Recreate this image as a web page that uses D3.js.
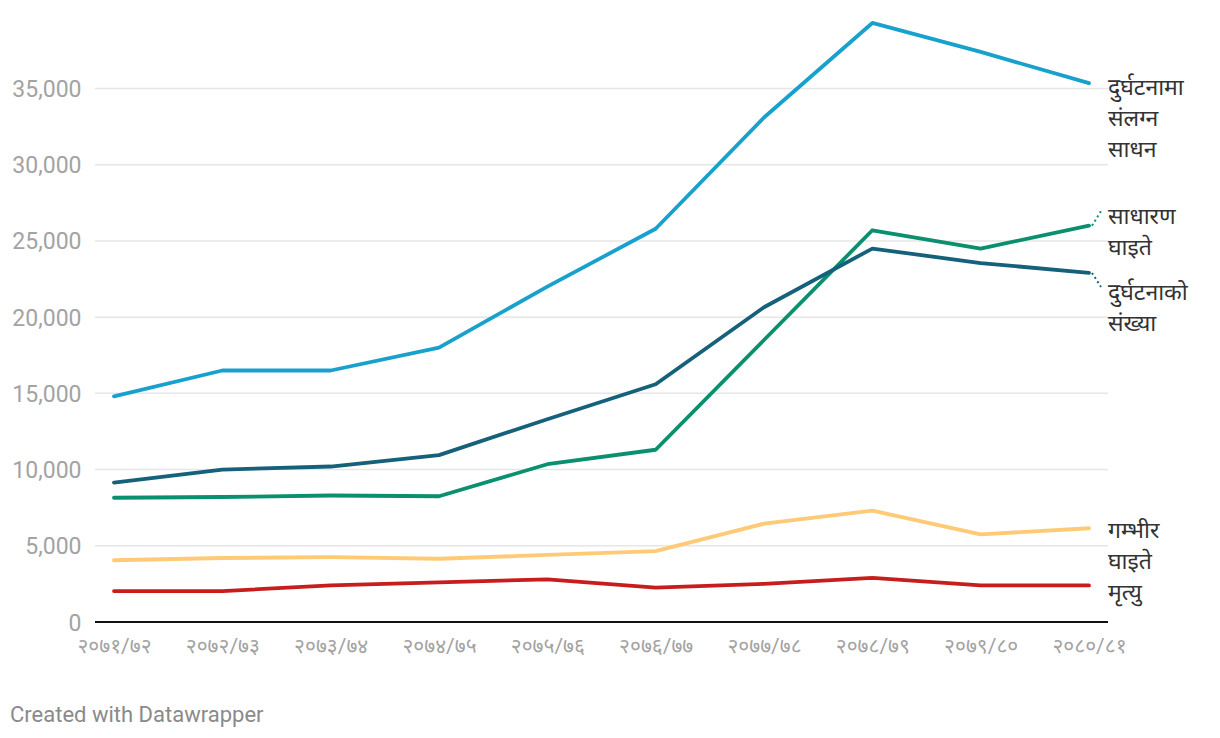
<!DOCTYPE html>
<html>
<head>
<meta charset="utf-8">
<script src="https://cdn.jsdelivr.net/npm/d3@7"></script>
<style>
  body { margin: 0; background: #fff; }
  svg { display: block; }
  text { font-family: Roboto, "Noto Sans", sans-serif; }
</style>
</head>
<body>
<svg id="chart" width="1220" height="738"></svg>
<script>
// ---- data ----
const years = ["२०७१/७२", "२०७२/७३", "२०७३/७४", "२०७४/७५", "२०७५/७६", "२०७६/७७", "२०७७/७८", "२०७८/७९", "२०७९/८०", "२०८०/८१"];
const vehicles  = [14800, 16500, 16500, 18000, 22000, 25800, 33100, 39300, 37400, 35350]; // दुर्घटनामा संलग्न साधन
const minorInj  = [8150, 8200, 8300, 8250, 10350, 11300, 18500, 25700, 24500, 26000];    // साधारण घाइते
const accidents = [9150, 10000, 10200, 10950, 13300, 15600, 20650, 24500, 23550, 22900]; // दुर्घटनाको संख्या
const seriousInj= [4050, 4200, 4250, 4150, 4400, 4650, 6450, 7300, 5750, 6150];          // गम्भीर घाइते
const deaths    = [2030, 2030, 2400, 2600, 2800, 2250, 2500, 2900, 2400, 2400];          // मृत्यु
const yTicks = [0, 5000, 10000, 15000, 20000, 25000, 30000, 35000];

const series = [
  { name: "vehicles",   values: vehicles,   color: "#18a1cd", label: ["दुर्घटनामा", "संलग्न", "साधन"], labelY: 87, dot: false },
  { name: "minor",      values: minorInj,   color: "#0a8f6f", label: ["साधारण", "घाइते"], labelY: 216, dot: true, dotTo: 211 },
  { name: "accidents",  values: accidents,  color: "#15607a", label: ["दुर्घटनाको", "संख्या"], labelY: 292, dot: true, dotTo: 287 },
  { name: "serious",    values: seriousInj, color: "#ffca76", label: ["गम्भीर", "घाइते"], labelY: 530, dot: false },
  { name: "deaths",     values: deaths,     color: "#c71e1d", label: ["मृत्यु"], labelY: 592, dot: false }
];

// ---- layout ----
const svg = d3.select("#chart");
const x = d3.scalePoint().domain(years).range([114, 1089]);
const y = d3.scaleLinear().domain([0, 35000]).range([622, 88.5]);
const gridLeft = 95, gridRight = 1108;

// grid lines
svg.append("g").selectAll("line")
  .data(yTicks.filter(d => d > 0))
  .join("line")
  .attr("x1", gridLeft).attr("x2", gridRight)
  .attr("y1", d => y(d)).attr("y2", d => y(d))
  .attr("stroke", "#e6e6e6").attr("stroke-width", 1.5);

// y axis labels
const yAxis = d3.axisLeft(y).tickValues(yTicks).tickSize(0).tickPadding(0)
  .tickFormat(d => d3.format(",")(d));
const gy = svg.append("g").attr("transform", `translate(81.5,0)`).call(yAxis);
gy.select(".domain").remove();
gy.selectAll("text").attr("font-size", 23).attr("fill", "#a3a3a3")
  .attr("font-family", "Roboto, sans-serif").attr("dy", "0.35em");

// x axis labels
const xAxis = d3.axisBottom(x).tickSize(0).tickPadding(0);
const gx = svg.append("g").attr("transform", `translate(0,638)`).call(xAxis);
gx.select(".domain").remove();
gx.selectAll("text").attr("font-size", 21).attr("fill", "#a3a3a3").attr("dy", "0.71em");

// zero baseline
svg.append("line")
  .attr("x1", gridLeft).attr("x2", gridRight)
  .attr("y1", y(0)).attr("y2", y(0))
  .attr("stroke", "#111").attr("stroke-width", 2);

// lines
const line = d3.line().x((d, i) => x(years[i])).y(d => y(d));
svg.append("g").selectAll("path")
  .data(series)
  .join("path")
  .attr("d", d => line(d.values))
  .attr("fill", "none")
  .attr("stroke", d => d.color)
  .attr("stroke-width", 3.8)
  .attr("stroke-linejoin", "round")
  .attr("stroke-linecap", "round");

// dotted connectors
series.filter(s => s.dot).forEach(s => {
  const last = s.values[s.values.length - 1];
  svg.append("line")
    .attr("x1", x(years[years.length - 1]) + 3).attr("y1", y(last))
    .attr("x2", 1101).attr("y2", s.dotTo)
    .attr("stroke", s.color).attr("stroke-width", 2)
    .attr("stroke-dasharray", "2,3");
});

// labels
series.forEach(s => {
  const t = svg.append("text")
    .attr("x", 1108).attr("y", s.labelY)
    .attr("font-size", 23).attr("fill", "#333")
    .attr("font-family", "'Noto Sans', sans-serif");
  s.label.forEach((l, i) => {
    t.append("tspan").attr("x", 1108).attr("dy", i === 0 ? "0.35em" : 31).text(l);
  });
});

// footer
svg.append("text").attr("x", 10).attr("y", 722)
  .attr("font-size", 22).attr("fill", "#8a8a8a")
  .attr("font-family", "Roboto, sans-serif")
  .text("Created with Datawrapper");
</script>
</body>
</html>
